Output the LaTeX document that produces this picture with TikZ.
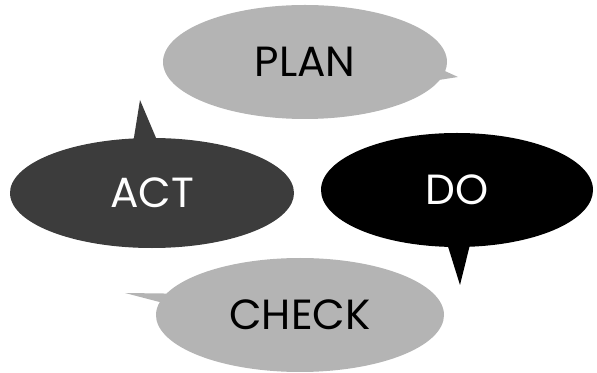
\documentclass[tikz,border=0pt]{standalone}
\usepackage{fontspec}
\setmainfont{Poppins}
\usetikzlibrary{shapes.callouts}
\definecolor{LightGrey}{HTML}{B4B4B4}
\definecolor{DarkGrey}{HTML}{3C3C3C}

\begin{document}
\begin{tikzpicture}[font=\fontsize{30}{32}\selectfont,
    bubble/.style={ellipse callout,inner sep=0pt,callout pointer arc=9,
      minimum width=7.1cm,minimum height=2.85cm}]
    \useasboundingbox (0,0) rectangle (14.925,9.325);
    % four phases as speech bubbles
    \node[bubble,fill=LightGrey,callout absolute pointer={(11.45,7.4)}] (plan) at (7.625,7.775) {PLAN};
    \node[bubble,fill=DarkGrey,text=white,minimum height=2.75cm,callout absolute pointer={(3.5,6.825)}] (act) at (3.8,4.5) {ACT};
    \node[bubble,fill=black,text=white,minimum width=6.8cm,callout absolute pointer={(11.5,2.2)}] (do) at (11.425,4.575) {DO};
    \node[bubble,fill=LightGrey,minimum width=7.2cm,callout absolute pointer={(3.125,2.0)}] (check) at (7.5,1.45) {CHECK};
  \end{tikzpicture}
\end{document}
